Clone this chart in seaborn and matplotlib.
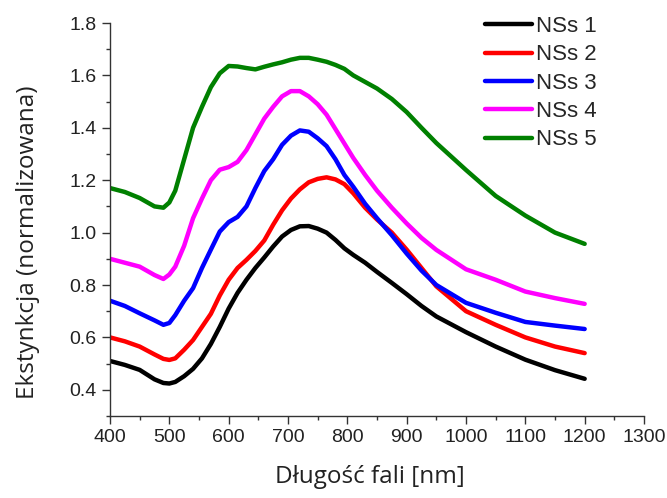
import numpy as np
import pandas as pd
import matplotlib
matplotlib.use("Agg")
import matplotlib.pyplot as plt
import seaborn as sns
from matplotlib.ticker import MultipleLocator

# wavelength grid [nm]
wavelength = [400, 425, 450, 475, 490, 500, 510, 525, 540, 555, 570, 585, 600, 615, 630, 645,
              660, 675, 690, 705, 720, 735, 750, 765, 780, 795, 810, 830, 850, 875, 900, 925,
              950, 1000, 1050, 1100, 1150, 1200]

nss1 = [0.51, 0.495, 0.476, 0.44, 0.426, 0.424, 0.43, 0.452, 0.48, 0.52, 0.575, 0.64, 0.71, 0.77,
        0.82, 0.865, 0.905, 0.947, 0.985, 1.01, 1.024, 1.025, 1.015, 1.0, 0.972, 0.94, 0.915,
        0.885, 0.85, 0.808, 0.765, 0.72, 0.68, 0.62, 0.565, 0.515, 0.475, 0.442]
nss2 = [0.60, 0.585, 0.565, 0.535, 0.518, 0.514, 0.52, 0.553, 0.59, 0.64, 0.69, 0.76, 0.82, 0.865,
        0.896, 0.93, 0.97, 1.03, 1.085, 1.13, 1.165, 1.192, 1.205, 1.211, 1.203, 1.185, 1.15,
        1.095, 1.05, 1.0, 0.935, 0.865, 0.795, 0.70, 0.648, 0.60, 0.565, 0.54]
nss3 = [0.74, 0.72, 0.692, 0.665, 0.648, 0.655, 0.685, 0.74, 0.788, 0.865, 0.935, 1.004, 1.04,
        1.06, 1.10, 1.17, 1.235, 1.28, 1.335, 1.37, 1.39, 1.385, 1.36, 1.33, 1.28, 1.22, 1.175,
        1.11, 1.055, 0.99, 0.92, 0.855, 0.80, 0.732, 0.694, 0.659, 0.645, 0.632]
nss4 = [0.90, 0.885, 0.87, 0.838, 0.823, 0.84, 0.87, 0.95, 1.055, 1.13, 1.20, 1.24, 1.25, 1.27,
        1.315, 1.375, 1.435, 1.48, 1.52, 1.54, 1.54, 1.52, 1.49, 1.45, 1.395, 1.34, 1.285, 1.22,
        1.16, 1.095, 1.035, 0.98, 0.934, 0.86, 0.82, 0.775, 0.75, 0.728]
nss5 = [1.17, 1.155, 1.132, 1.10, 1.095, 1.115, 1.16, 1.28, 1.40, 1.48, 1.555, 1.608, 1.636, 1.634,
        1.628, 1.623, 1.633, 1.642, 1.65, 1.66, 1.667, 1.667, 1.66, 1.652, 1.64, 1.625, 1.60,
        1.575, 1.55, 1.51, 1.46, 1.40, 1.342, 1.239, 1.14, 1.065, 1.0, 0.957]

labels = ["NSs 1", "NSs 2", "NSs 3", "NSs 4", "NSs 5"]
colors = ["#000000", "#ff0000", "#0000ff", "#ff00ff", "#008000"]

frames = []
for lab, vals in zip(labels, [nss1, nss2, nss3, nss4, nss5]):
    frames.append(pd.DataFrame({"wl": wavelength, "ext": vals, "sample": lab}))
df = pd.concat(frames, ignore_index=True)

sns.set_style("ticks")
plt.rcParams["font.family"] = ["Liberation Sans", "DejaVu Sans"]

fig = plt.figure(figsize=(6.67, 4.98), dpi=100)
ax = fig.add_axes([110 / 667, 82 / 498, 534 / 667, 393 / 498])

sns.lineplot(data=df, x="wl", y="ext", hue="sample", palette=colors, linewidth=3.2,
             ax=ax, legend=True)

ax.set_xlim(400, 1300)
ax.set_ylim(0.3, 1.8)
ax.xaxis.set_major_locator(MultipleLocator(100))
ax.xaxis.set_minor_locator(MultipleLocator(50))
ax.set_yticks(np.arange(0.4, 1.81, 0.2))
ax.yaxis.set_minor_locator(MultipleLocator(0.1))
ax.tick_params(which="major", direction="out", length=6, width=1, labelsize=14, colors="#333333",
               labelcolor="#222222")
ax.tick_params(which="minor", direction="out", length=3, width=1, colors="#333333")
for s in ["top", "right"]:
    ax.spines[s].set_visible(False)
for s in ["left", "bottom"]:
    ax.spines[s].set_color("#333333")
    ax.spines[s].set_linewidth(1)

ax.set_xlabel("Długość fali [nm]", fontsize=17.5, family=["Open Sans", "DejaVu Sans"],
              color="#222222")
ax.set_ylabel("Ekstynkcja (normalizowana)", fontsize=17.5, family=["Open Sans", "DejaVu Sans"],
              color="#222222")
ax.xaxis.set_label_coords(0.487, -0.125)
ax.yaxis.set_label_coords(-0.131, 0.443)

leg = ax.legend(loc="upper left", bbox_to_anchor=(485 / 667, 1 - 16 / 498),
                bbox_transform=fig.transFigure, frameon=False, fontsize=16,
                handlelength=2.1, handletextpad=0.18, labelspacing=0.33,
                borderpad=0, borderaxespad=0)
for line in leg.get_lines():
    line.set_linewidth(3.2)

fig.savefig("out.png", dpi=100)
